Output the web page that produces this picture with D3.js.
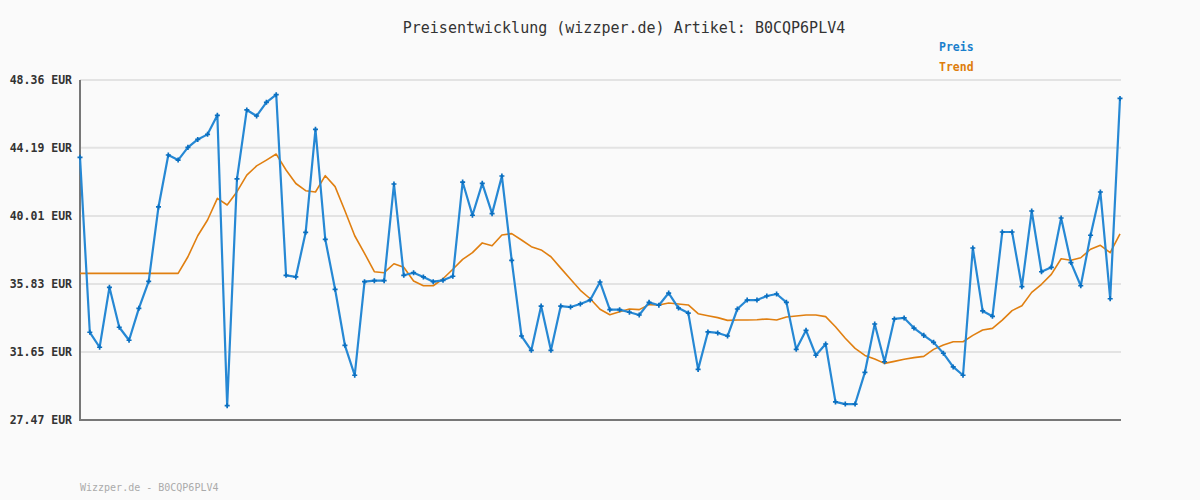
<!DOCTYPE html>
<html><head><meta charset="utf-8">
<script src="https://cdn.jsdelivr.net/npm/d3@7/dist/d3.min.js"></script>
<style>
html,body{margin:0;padding:0;background:#fafafa;}
svg{display:block;}
</style></head>
<body><svg id="c" width="1200" height="500"></svg>
<script>
const title = "Preisentwicklung (wizzper.de) Artikel: B0CQP6PLV4";
const footer = "Wizzper.de - B0CQP6PLV4";
const seriesNames = ["Preis", "Trend"];
const yTicks = [27.47, 31.65, 35.83, 40.01, 44.19, 48.36];
const yTickLabels = ["27.47 EUR", "31.65 EUR", "35.83 EUR", "40.01 EUR", "44.19 EUR", "48.36 EUR"];
const preis = [43.61,32.86,31.94,35.62,33.17,32.37,34.33,35.99,40.56,43.75,
  43.44,44.22,44.71,45.02,46.19,28.35,42.28,46.52,46.15,46.99,
  47.46,36.36,36.26,39.00,45.33,38.57,35.50,32.06,30.22,35.97,
  36.03,36.03,41.97,36.36,36.52,36.26,35.97,36.05,36.30,42.09,
  40.05,42.01,40.15,42.46,37.28,32.63,31.75,34.47,31.75,34.47,
  34.41,34.60,34.84,35.95,34.25,34.25,34.09,33.92,34.70,34.52,
  35.27,34.35,34.04,30.58,32.88,32.82,32.63,34.29,34.84,34.84,
  35.09,35.21,34.70,31.81,32.98,31.45,32.14,28.58,28.45,28.45,
  30.40,33.37,31.05,33.68,33.74,33.12,32.67,32.24,31.57,30.73,
  30.22,38.04,34.17,33.84,39.02,39.02,35.66,40.31,36.58,36.85,
  39.88,37.14,35.72,38.82,41.48,34.92,47.23];
const trend = [36.48,36.48,36.48,36.48,36.48,36.48,36.48,36.48,36.48,36.48,
  36.48,37.50,38.79,39.76,41.09,40.68,41.50,42.52,43.08,43.44,
  43.81,42.83,42.00,41.56,41.48,42.48,41.81,40.33,38.79,37.71,
  36.58,36.52,37.07,36.85,36.01,35.72,35.72,36.15,36.73,37.34,
  37.75,38.35,38.18,38.84,38.92,38.53,38.12,37.92,37.50,36.80,
  36.12,35.44,34.92,34.27,33.94,34.12,34.29,34.25,34.56,34.54,
  34.66,34.60,34.54,34.00,33.88,33.76,33.59,33.61,33.61,33.63,
  33.68,33.61,33.80,33.86,33.92,33.92,33.82,33.20,32.49,31.87,
  31.44,31.22,30.95,31.07,31.20,31.30,31.38,31.81,32.08,32.28,
  32.28,32.67,33.00,33.10,33.61,34.19,34.49,35.31,35.81,36.42,
  37.38,37.28,37.44,37.96,38.20,37.75,38.90];

const svg = d3.select("#c");
const W = 1200, H = 500;
const m = {left: 80, right: 80, top: 80, bottom: 80};
const x = d3.scaleLinear().domain([0, preis.length - 1]).range([m.left, W - m.right]);
const y = d3.scaleLinear().domain([yTicks[0], yTicks[yTicks.length - 1]]).range([H - m.bottom, m.top]);
const mono = "'DejaVu Sans Mono', 'Liberation Mono', monospace";

svg.append("rect").attr("width", W).attr("height", H).attr("fill", "#fafafa");

// grid
svg.append("g").selectAll("line").data(yTicks).join("line")
  .attr("x1", m.left).attr("x2", W - m.right + 1)
  .attr("y1", d => y(d)).attr("y2", d => y(d))
  .attr("stroke", "#e3e3e3").attr("stroke-width", 2);

// y axis
const yAxis = d3.axisLeft(y).tickValues(yTicks).tickSize(0).tickPadding(8)
  .tickFormat((d, i) => yTickLabels[i]);
const gy = svg.append("g").attr("transform", `translate(${m.left},0)`).call(yAxis);
gy.select(".domain").remove();
gy.selectAll("text").attr("font-family", mono).attr("font-size", 11.5)
  .attr("font-weight", "bold").attr("fill", "#333");

// axis lines
svg.append("line").attr("x1", m.left).attr("x2", m.left)
  .attr("y1", y(yTicks[yTicks.length - 1])).attr("y2", y(yTicks[0]) + 1)
  .attr("stroke", "#777").attr("stroke-width", 2);
svg.append("line").attr("x1", m.left - 1).attr("x2", W - m.right + 1)
  .attr("y1", y(yTicks[0])).attr("y2", y(yTicks[0]))
  .attr("stroke", "#777").attr("stroke-width", 2);

const line = d3.line().x((d, i) => x(i)).y(d => y(d));

svg.append("path").datum(trend).attr("d", line)
  .attr("fill", "none").attr("stroke", "#e07f10").attr("stroke-width", 1.6)
  .attr("stroke-linejoin", "round");

svg.append("path").datum(preis).attr("d", line)
  .attr("fill", "none").attr("stroke", "#2688d4").attr("stroke-width", 2.2)
  .attr("stroke-linejoin", "round");

// markers
const sym = d3.symbol().type(d3.symbolCross).size(14);
svg.append("g").selectAll("path").data(preis).join("path")
  .attr("d", sym)
  .attr("transform", (d, i) => `translate(${x(i)},${y(d)})`)
  .attr("fill", "#0a6fc0");

// title
svg.append("text").attr("x", 624).attr("y", 33).attr("text-anchor", "middle")
  .attr("font-family", mono).attr("font-size", 15).attr("fill", "#333")
  .text(title);

// legend
const legColors = ["#1a7fcc", "#de7d0c"];
svg.append("g").selectAll("text").data(seriesNames).join("text")
  .attr("x", 939).attr("y", (d, i) => 51 + i * 20)
  .attr("font-family", mono).attr("font-size", 11.5).attr("font-weight", "bold")
  .attr("fill", (d, i) => legColors[i]).text(d => d);

// footer
svg.append("text").attr("x", 80).attr("y", 491)
  .attr("font-family", mono).attr("font-size", 10).attr("fill", "#aaa")
  .text(footer);
</script></body></html>
